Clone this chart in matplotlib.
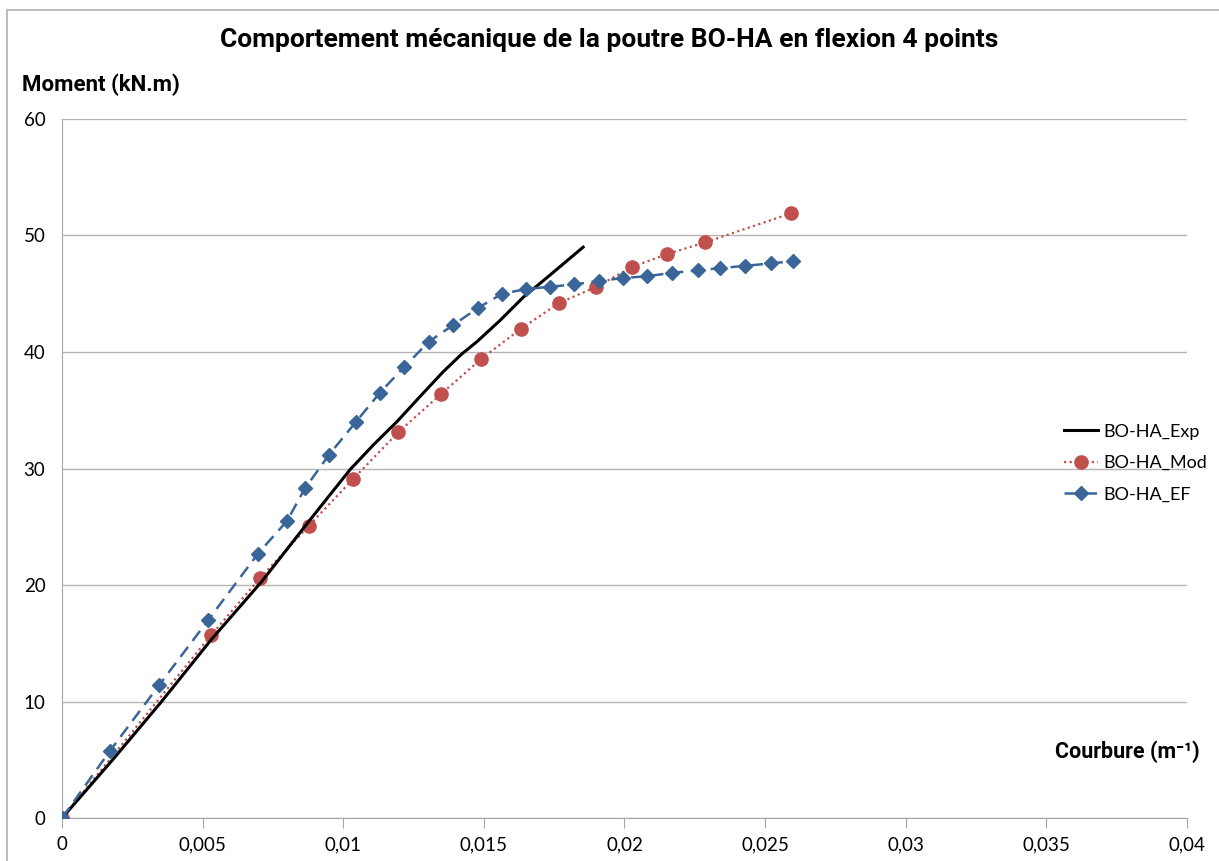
import matplotlib
matplotlib.use("Agg")
import matplotlib.pyplot as plt
from matplotlib.patches import Rectangle
from matplotlib.ticker import FuncFormatter

plt.rcParams['font.family'] = ['Lato', 'DejaVu Sans']

# Données
exp_x = [0, 0.0018, 0.00354, 0.0053, 0.0071, 0.00882, 0.01024, 0.0111, 0.0119,
         0.0127, 0.01355, 0.0142, 0.01476, 0.01557, 0.0164, 0.01735, 0.01853]
exp_y = [0, 5.0, 10.0, 15.3, 20.3, 25.6, 29.9, 32.1, 34.0, 36.1, 38.3, 39.8, 40.9,
         42.7, 44.7, 46.6, 49.0]

mod_x = [0, 0.0053, 0.00704, 0.00878, 0.01035, 0.01195, 0.01348, 0.0149, 0.01632,
         0.01767, 0.0190, 0.02027, 0.02151, 0.02286, 0.02592]
mod_y = [0, 15.7, 20.6, 25.1, 29.1, 33.1, 36.4, 39.4, 42.0, 44.2, 45.6, 47.3, 48.4,
         49.4, 51.9]

ef_x = [0, 0.0017, 0.00345, 0.0052, 0.00697, 0.0080, 0.00864, 0.0095, 0.01045,
        0.0113, 0.01216, 0.01305, 0.0139, 0.0148, 0.01565, 0.0165, 0.01735, 0.0182,
        0.0191, 0.01995, 0.0208, 0.0217, 0.0226, 0.0234, 0.0243, 0.0252, 0.0260]
ef_y = [0, 5.75, 11.4, 17.0, 22.7, 25.5, 28.3, 31.2, 34.0, 36.5, 38.7, 40.9, 42.3,
        43.8, 45.0, 45.4, 45.6, 45.8, 46.1, 46.35, 46.5, 46.8, 47.0, 47.2, 47.4,
        47.6, 47.8]

fig = plt.figure(figsize=(12.19, 8.61), dpi=100)
ax = fig.add_axes([0.0509, 0.0499, 0.9228, 0.8119])

# cadre du graphique
fig.patches.append(Rectangle((7 / 1219, -0.1), 1.2, (861 - 10) / 861 + 0.1,
                             transform=fig.transFigure, fill=False,
                             edgecolor='#b0b0b0', linewidth=1.2))

ax.plot(exp_x, exp_y, color='black', linewidth=2.2, label='BO-HA_Exp', zorder=3)
ax.plot(mod_x, mod_y, color='#C0504D', linestyle=(0, (1, 1.5)), linewidth=1.6,
        marker='o', markersize=9.5, label='BO-HA_Mod', zorder=2)
ax.plot(ef_x, ef_y, color='#3A6598', linestyle=(0, (5, 3)), linewidth=1.8,
        marker='D', markersize=7.5, label='BO-HA_EF', zorder=4)

ax.set_xlim(0, 0.04)
ax.set_ylim(0, 60)
ax.set_xticks([0, 0.005, 0.01, 0.015, 0.02, 0.025, 0.03, 0.035, 0.04])
ax.set_yticks(range(0, 61, 10))
ax.xaxis.set_major_formatter(FuncFormatter(lambda v, p: ('%g' % round(v, 4)).replace('.', ',')))
ax.yaxis.grid(True, color='#b4b4b4', linewidth=1)
ax.set_axisbelow(True)
for s in ['top', 'right']:
    ax.spines[s].set_visible(False)
for s in ['left', 'bottom']:
    ax.spines[s].set_color('#a6a6a6')
ax.tick_params(axis='x', direction='out', length=7, color='#a6a6a6', labelsize=13.5, pad=6)
ax.tick_params(axis='y', direction='out', length=0, labelsize=13.5, pad=12)

bold = ['Roboto', 'DejaVu Sans']
fig.text(0.5, 0.953, 'Comportement mécanique de la poutre BO-HA en flexion 4 points',
         ha='center', va='center', fontsize=19, fontweight='bold', family=bold)
fig.text(22 / 1219, 1 - 85 / 861, 'Moment (kN.m)', ha='left', va='center',
         fontsize=16, fontweight='bold', family=bold)
fig.text(1200 / 1219, 1 - 752 / 861, 'Courbure (m⁻¹)', ha='right',
         va='center', fontsize=15.5, fontweight='bold', family=bold)

ax.legend(loc='center left', bbox_to_anchor=(1055 / 1219, 1 - 463 / 861),
          bbox_transform=fig.transFigure, frameon=False, fontsize=13,
          handlelength=1.9, handletextpad=0.3, labelspacing=0.85, borderpad=0)

fig.savefig('out.png', dpi=100)
